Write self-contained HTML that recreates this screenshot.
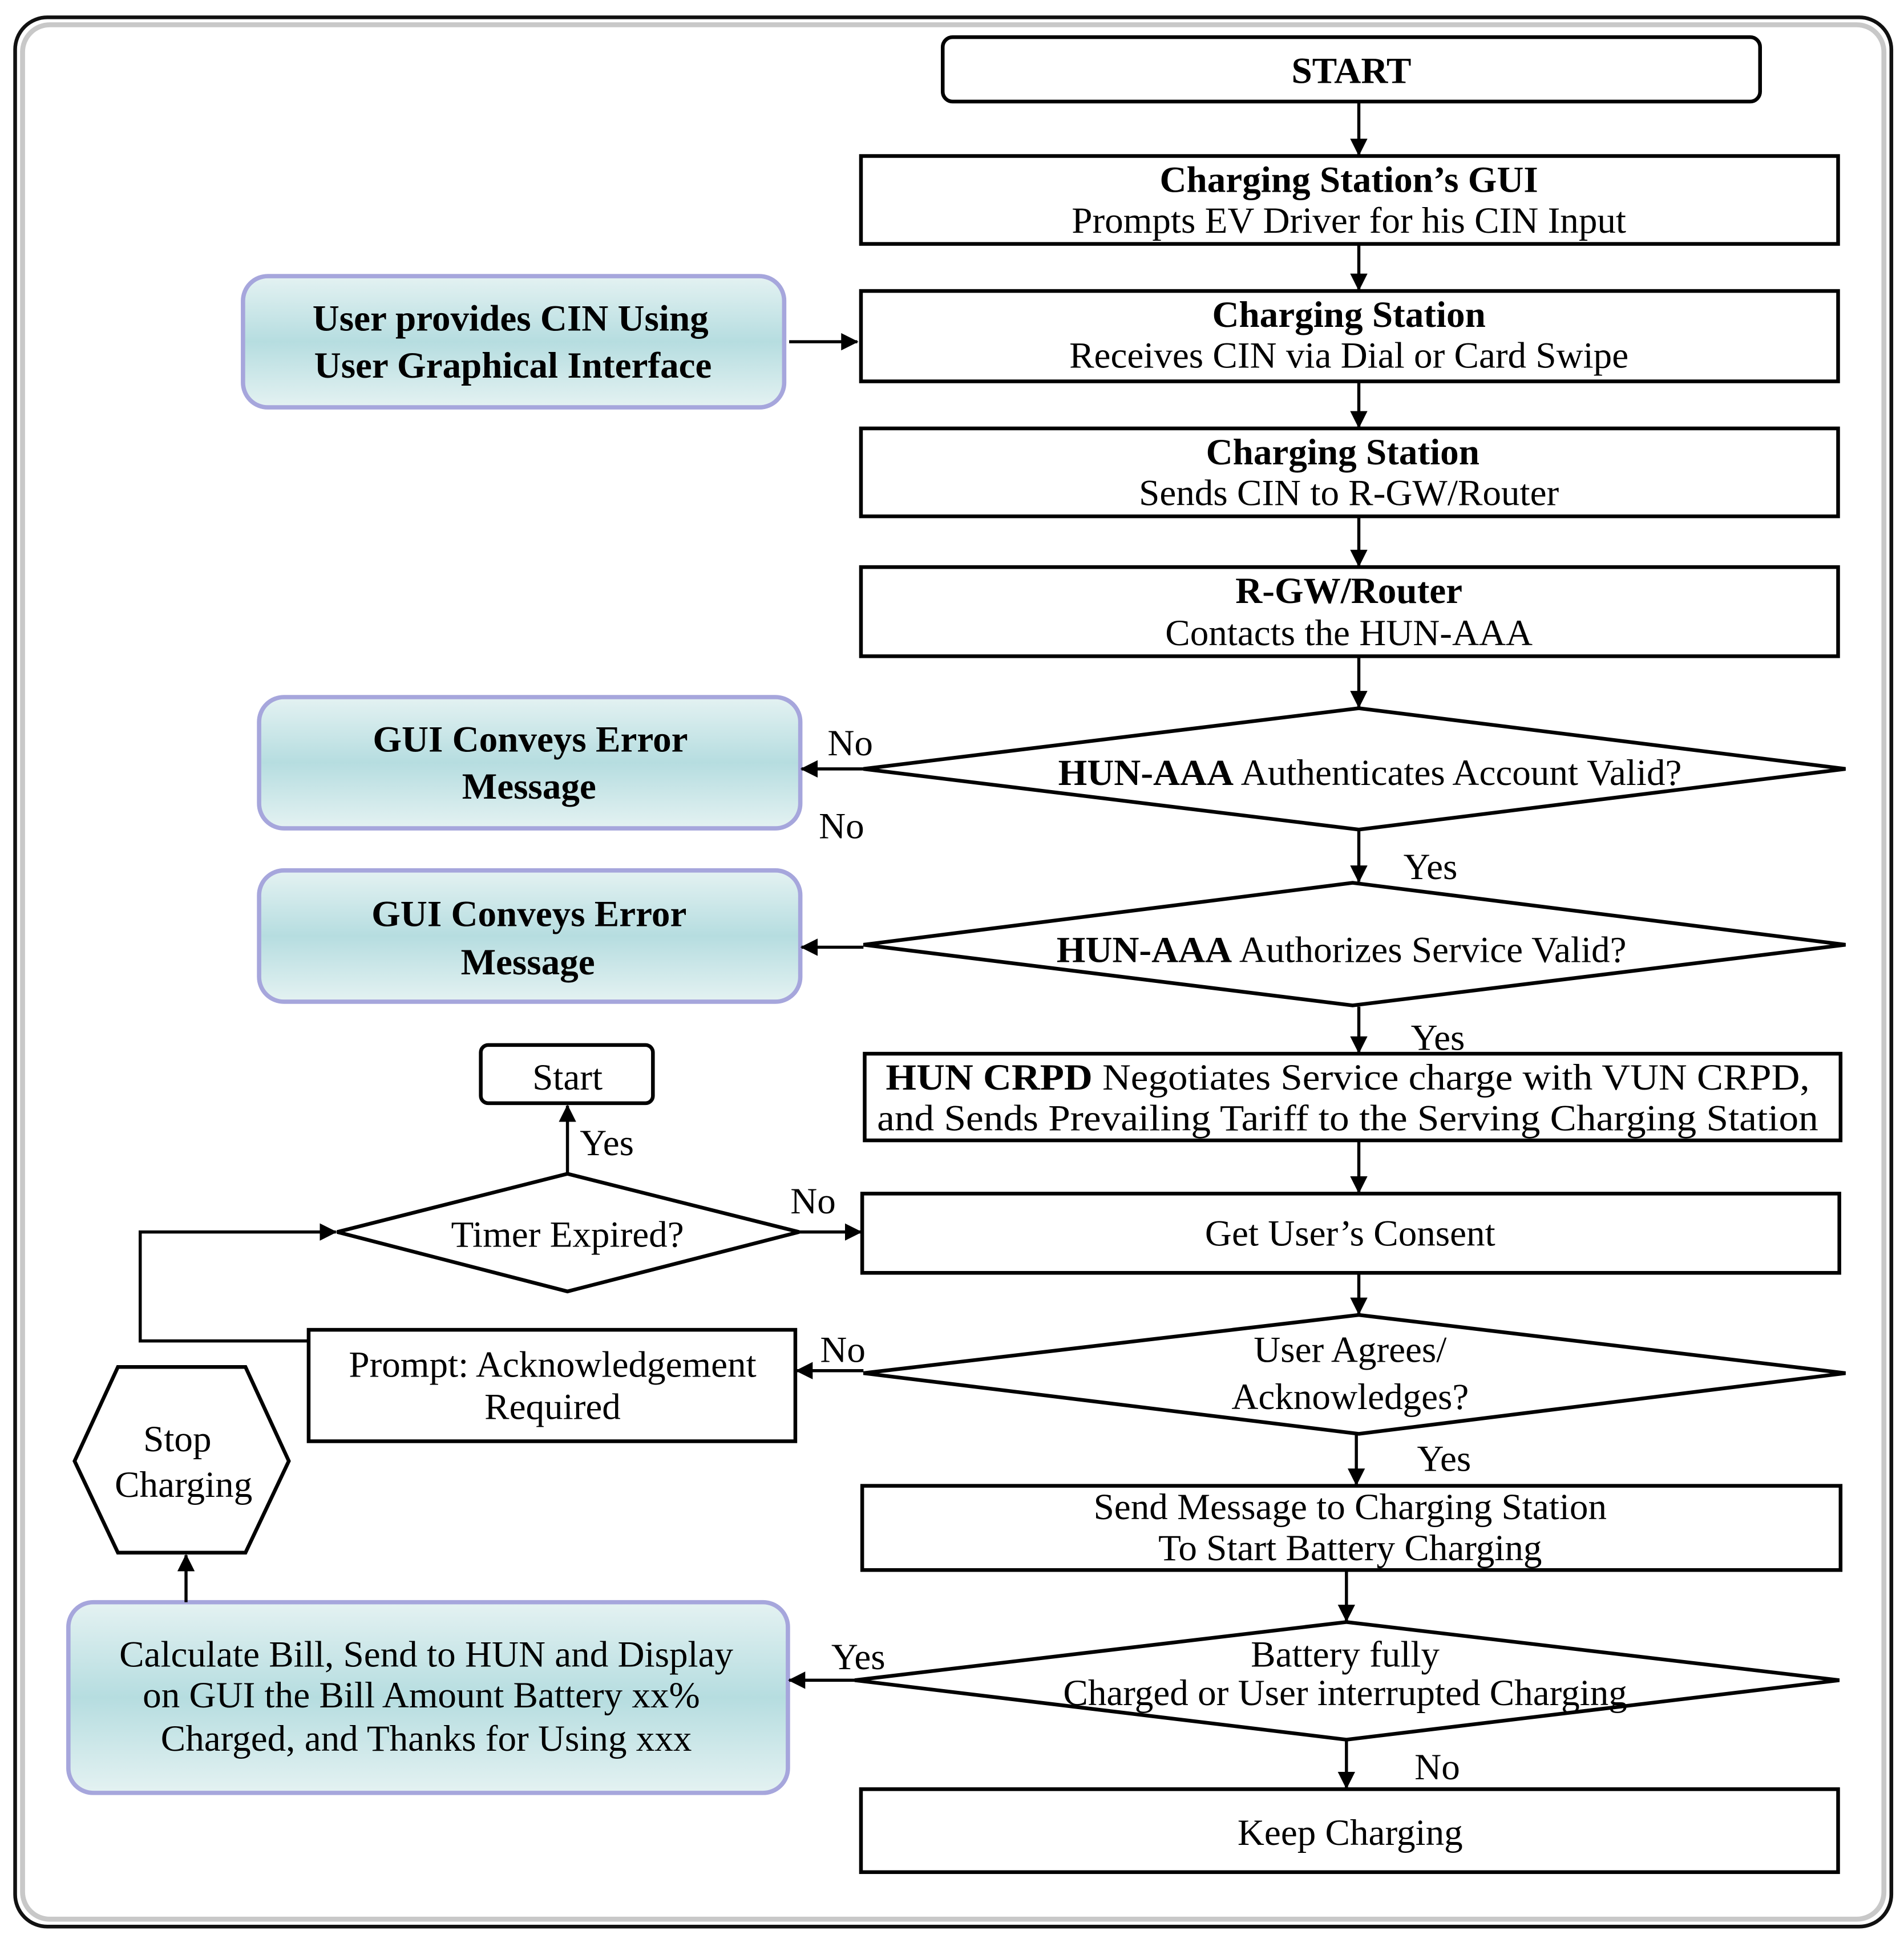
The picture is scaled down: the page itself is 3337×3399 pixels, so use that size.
<!DOCTYPE html>
<html><head><meta charset="utf-8"><style>html,body{margin:0;padding:0;background:#fff}svg{display:block}</style></head>
<body>
<svg width="3337" height="3399" viewBox="0 0 1537 1566" xmlns="http://www.w3.org/2000/svg" font-family="Liberation Serif, serif" font-size="30">
<defs>
<linearGradient id="g" x1="0" y1="0" x2="0" y2="1">
<stop offset="0" stop-color="#e4f2f2"/><stop offset="0.5" stop-color="#b6dde0"/><stop offset="1" stop-color="#e4f2f2"/>
</linearGradient>
<marker id="a" markerWidth="14" markerHeight="14" refX="13" refY="7" orient="auto" markerUnits="userSpaceOnUse" viewBox="0 0 14 14"><path d="M0,0 L14,7 L0,14 z" fill="#000"/></marker>
</defs>
<rect x="0" y="0" width="1537" height="1566" fill="#fff"/>
<rect x="12" y="14" width="1515" height="1542" rx="26" fill="none" stroke="#111" stroke-width="3"/>
<rect x="18" y="20" width="1503" height="1530" rx="22" fill="none" stroke="#c8c8c8" stroke-width="4"/>

<g fill="#fff" stroke="#000" stroke-width="3">
<rect x="761" y="30" width="660" height="52" rx="8"/>
<rect x="695" y="126" width="789" height="71"/>
<rect x="695" y="235" width="789" height="73"/>
<rect x="695" y="346" width="789" height="71"/>
<rect x="695" y="458" width="789" height="72"/>
<polygon points="697,621 1097,572 1490,621 1097,670"/>
<polygon points="697,763 1092,713 1490,763 1092,812"/>
<rect x="698" y="851" width="788" height="70"/>
<rect x="696" y="964" width="789" height="64"/>
<polygon points="697,1109 1097,1062 1490,1109 1097,1158"/>
<rect x="696" y="1200" width="790" height="68"/>
<polygon points="690,1357 1087,1310 1485,1357 1087,1405"/>
<rect x="695" y="1445" width="789" height="67"/>
<rect x="388" y="844" width="139" height="47" rx="6"/>
<polygon points="272,995 458,948 645,995 458,1043"/>
<rect x="249" y="1074" width="393" height="90"/>
<polygon points="60,1180 95,1104 198,1104 233,1180 198,1254 95,1254"/>
</g>
<g fill="url(#g)" stroke="#a6a6dc" stroke-width="3.5">
<rect x="196" y="223" width="437" height="106" rx="20"/>
<rect x="209" y="563" width="437" height="106" rx="20"/>
<rect x="209" y="703" width="437" height="106" rx="20"/>
<rect x="55" y="1294" width="581" height="154" rx="20"/>
</g>

<g stroke="#000" stroke-width="2.5" fill="none" marker-end="url(#a)">
<line x1="1097" y1="83" x2="1097" y2="125"/>
<line x1="1097" y1="198" x2="1097" y2="234"/>
<line x1="1097" y1="309" x2="1097" y2="345"/>
<line x1="1097" y1="418" x2="1097" y2="457"/>
<line x1="1097" y1="531" x2="1097" y2="571"/>
<line x1="1097" y1="671" x2="1097" y2="712"/>
<line x1="1097" y1="813" x2="1097" y2="850"/>
<line x1="1097" y1="922" x2="1097" y2="963"/>
<line x1="1097" y1="1029" x2="1097" y2="1061"/>
<line x1="1095" y1="1159" x2="1095" y2="1199"/>
<line x1="1087" y1="1269" x2="1087" y2="1309"/>
<line x1="1087" y1="1406" x2="1087" y2="1444"/>
<line x1="697" y1="621" x2="647" y2="621"/>
<line x1="697" y1="765" x2="647" y2="765"/>
<line x1="697" y1="1107" x2="643" y2="1107"/>
<line x1="690" y1="1357" x2="637" y2="1357"/>
<line x1="637" y1="276" x2="692" y2="276"/>
<line x1="645" y1="995" x2="695" y2="995"/>
<line x1="458" y1="948" x2="458" y2="893"/>
<line x1="150" y1="1294" x2="150" y2="1256"/>
<polyline points="249,1083 113,1083 113,995 271,995"/>
</g>

<g text-anchor="middle" fill="#000">
<text x="1091" y="67" font-weight="bold">START</text>
<text x="1089" y="155" font-weight="bold">Charging Station’s GUI</text>
<text x="1089" y="188">Prompts EV Driver for his CIN Input</text>
<text x="1089" y="264" font-weight="bold">Charging Station</text>
<text x="1089" y="297">Receives CIN via Dial or Card Swipe</text>
<text x="1084" y="375" font-weight="bold">Charging Station</text>
<text x="1089" y="408">Sends CIN to R-GW/Router</text>
<text x="1089" y="487" font-weight="bold">R-GW/Router</text>
<text x="1089" y="521">Contacts the HUN-AAA</text>
<text x="1106" y="634"><tspan font-weight="bold">HUN-AAA</tspan> Authenticates Account Valid?</text>
<text x="1083" y="777"><tspan font-weight="bold">HUN-AAA</tspan> Authorizes Service Valid?</text>
<text x="1088" y="880" textLength="746" lengthAdjust="spacingAndGlyphs"><tspan font-weight="bold">HUN CRPD</tspan> Negotiates Service charge with VUN CRPD,</text>
<text x="1088" y="913" textLength="760" lengthAdjust="spacingAndGlyphs">and Sends Prevailing Tariff to the Serving Charging Station</text>
<text x="1090" y="1006">Get User’s Consent</text>
<text x="1090" y="1100">User Agrees/</text>
<text x="1090" y="1138">Acknowledges?</text>
<text x="1090" y="1227">Send Message to Charging Station</text>
<text x="1090" y="1260">To Start Battery Charging</text>
<text x="1086" y="1346">Battery fully</text>
<text x="1086" y="1377">Charged or User interrupted Charging</text>
<text x="1090" y="1490">Keep Charging</text>
<text x="412" y="267" font-weight="bold">User  provides CIN Using</text>
<text x="414" y="305" font-weight="bold">User Graphical Interface</text>
<text x="428" y="607" font-weight="bold">GUI Conveys Error</text>
<text x="427" y="645" font-weight="bold">Message</text>
<text x="427" y="748" font-weight="bold">GUI Conveys Error</text>
<text x="426" y="787" font-weight="bold">Message</text>
<text x="344" y="1346">Calculate Bill, Send to HUN and Display</text>
<text x="340" y="1379">on GUI the Bill Amount Battery xx%</text>
<text x="344" y="1414">Charged, and Thanks for Using xxx</text>
<text x="458" y="880">Start</text>
<text x="458" y="1007">Timer Expired?</text>
<text x="446" y="1112">Prompt:  Acknowledgement</text>
<text x="446" y="1146">Required</text>
<text x="143" y="1172">Stop</text>
<text x="148" y="1209">Charging</text>
</g>
<g fill="#000">
<text x="668" y="610">No</text>
<text x="661" y="677">No</text>
<text x="1133" y="710">Yes</text>
<text x="1139" y="848">Yes</text>
<text x="638" y="980">No</text>
<text x="468" y="933">Yes</text>
<text x="662" y="1100">No</text>
<text x="1144" y="1188">Yes</text>
<text x="671" y="1348">Yes</text>
<text x="1142" y="1437">No</text>
</g>
</svg>
</body></html>
